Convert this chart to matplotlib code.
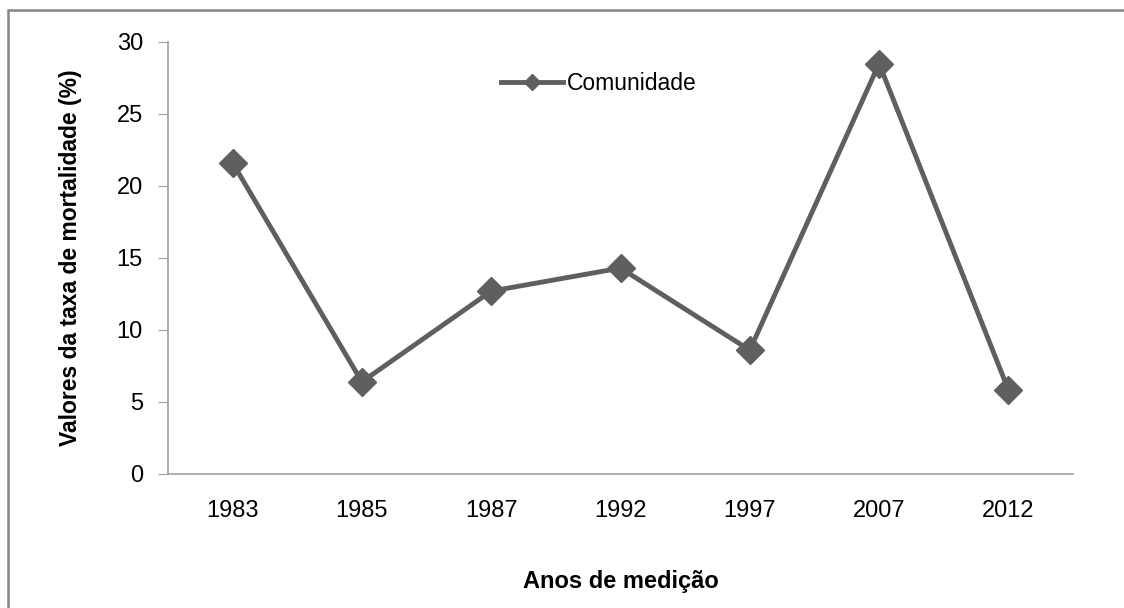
import matplotlib.pyplot as plt
from matplotlib.patches import Rectangle

# Mortality rate per measurement year
years = ['1983', '1985', '1987', '1992', '1997', '2007', '2012']
mortalidade = [21.6, 6.4, 12.7, 14.3, 8.6, 28.5, 5.85]
yticks = [0, 5, 10, 15, 20, 25, 30]

plt.rcParams['font.family'] = ['Liberation Sans', 'DejaVu Sans']

fig = plt.figure(figsize=(11.24, 6.08), dpi=100)

# Outer chart border (Excel style), cut off at right and bottom
fig.patches.append(Rectangle((8 / 1124, -0.05), 1.2, 1 - 10 / 608 + 0.05,
                             transform=fig.transFigure, fill=False,
                             edgecolor='#868686', linewidth=1.8))

ax = fig.add_axes([168 / 1124, 1 - 474 / 608, (1073 - 168) / 1124, (474 - 42) / 608])

x = list(range(len(years)))
ax.plot(x, mortalidade, color='#5f5f5f', linewidth=3.5, marker='D',
        markersize=14, label='Comunidade')

ax.set_xlim(-0.5, len(years) - 0.5)
ax.set_ylim(0, 30)
ax.set_yticks(yticks)
ax.set_xticks(x)
ax.set_xticklabels(years)

for s in ['top', 'right']:
    ax.spines[s].set_visible(False)
for s in ['left', 'bottom']:
    ax.spines[s].set_color('#a0a0a0')
    ax.spines[s].set_linewidth(1.2)

ax.tick_params(axis='y', length=7, color='#a0a0a0', labelsize=17, pad=11)
ax.tick_params(axis='x', length=0, labelsize=17, pad=19)

ax.set_ylabel('Valores da taxa de mortalidade (%)', fontsize=16.5,
              fontweight='bold', labelpad=25)
ax.set_xlabel('Anos de medição', fontsize=17, fontweight='bold', labelpad=34)

ax.legend(loc='upper center', bbox_to_anchor=(0.476, 0.979), frameon=False,
          fontsize=16.5, handlelength=2.7, handletextpad=0.2, markerscale=0.6)

fig.savefig('out.png', dpi=100)
